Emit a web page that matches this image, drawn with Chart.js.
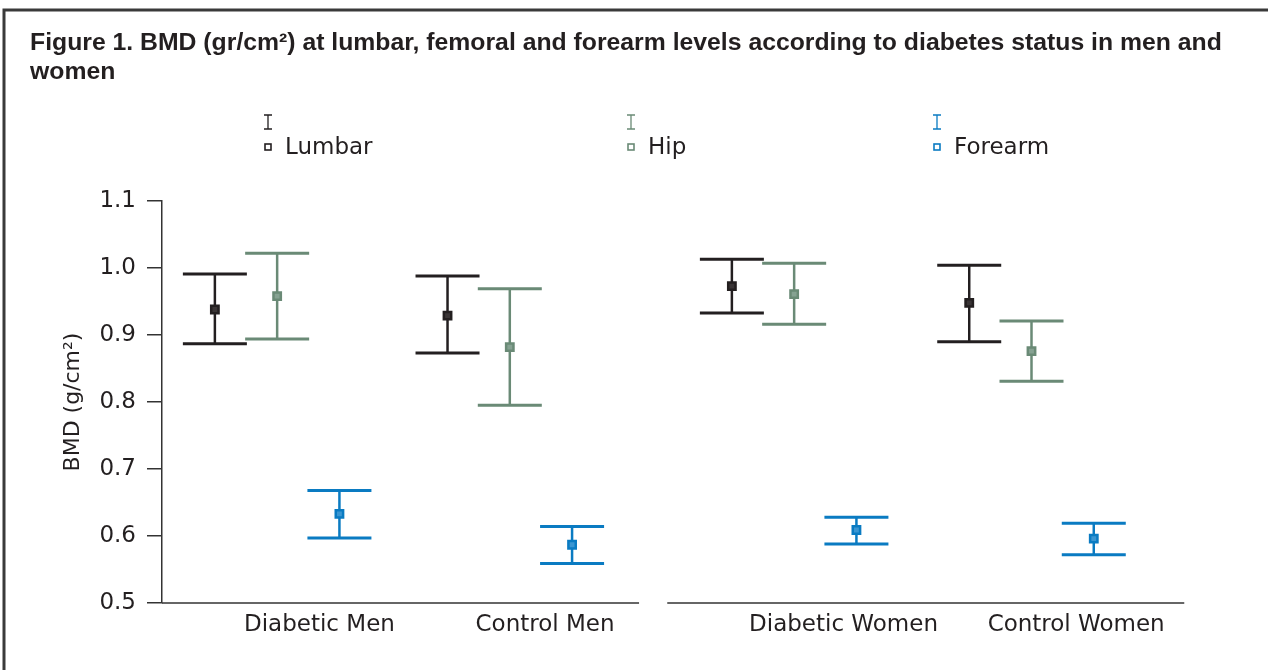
<!DOCTYPE html>
<html>
<head>
<meta charset="utf-8">
<script src="https://cdn.jsdelivr.net/npm/chart.js@4/dist/chart.umd.min.js"></script>
<style>
  html, body { margin: 0; padding: 0; background: #ffffff; }
  canvas { display: block; }
</style>
</head>
<body>
<canvas id="c" width="1268" height="670"></canvas>
<script>
// ---- data ----
const titleLines = ['Figure 1. BMD (gr/cm\u00B2) at lumbar, femoral and forearm levels according to diabetes status in men and', 'women'];
const categories = ['Diabetic Men', 'Control Men', 'Diabetic Women', 'Control Women'];
const seriesNames = ['Lumbar', 'Hip', 'Forearm'];
const lumbarMean = [0.938, 0.929, 0.973, 0.948];
const lumbarLow  = [0.887, 0.873, 0.933, 0.890];
const lumbarHigh = [0.991, 0.988, 1.013, 1.004];
const hipMean    = [0.958, 0.882, 0.961, 0.876];
const hipLow     = [0.894, 0.795, 0.916, 0.831];
const hipHigh    = [1.022, 0.969, 1.007, 0.921];
const forearmMean = [0.633, 0.587, 0.609, 0.596];
const forearmLow  = [0.597, 0.559, 0.588, 0.572];
const forearmHigh = [0.668, 0.614, 0.628, 0.619];
const yTicks = [0.5, 0.6, 0.7, 0.8, 0.9, 1.0, 1.1];

// ---- layout (x in category units) ----
const groupPos = [0.49, 1.48, 2.69, 3.70];
const seriesOffset = [-0.265, 0, 0.265];
const labelPos = [0.67, 1.63, 2.90, 3.89];
const panels = [[0, 2.03], [2.15, 4.35]];
const colors = ['#231f20', '#6a8a76', '#0a7bc2'];
const fills = ['#3a3536', '#86a292', '#3a96d2'];
const FONT = '"DejaVu Sans", sans-serif';

const means = [lumbarMean, hipMean, forearmMean];
const lows = [lumbarLow, hipLow, forearmLow];
const highs = [lumbarHigh, hipHigh, forearmHigh];

const datasets = seriesNames.map((name, k) => ({
  label: name,
  data: means[k].map((v, i) => ({ x: groupPos[i] + seriesOffset[k], y: v })),
  low: lows[k],
  high: highs[k],
  pointStyle: 'rect',
  pointRadius: 5.2,
  pointBorderWidth: 2.5,
  borderColor: colors[k],
  backgroundColor: fills[k],
  showLine: false
}));

const errorBars = {
  id: 'errorBars',
  beforeDatasetsDraw(chart) {
    const ctx = chart.ctx, xs = chart.scales.x, ys = chart.scales.y;
    ctx.save();
    chart.data.datasets.forEach((ds, k) => {
      ctx.strokeStyle = colors[k];
      ds.data.forEach((p, i) => {
        const x = xs.getPixelForValue(p.x);
        const yl = ys.getPixelForValue(ds.low[i]);
        const yh = ys.getPixelForValue(ds.high[i]);
        ctx.lineWidth = 2.5;
        ctx.beginPath(); ctx.moveTo(x, yl); ctx.lineTo(x, yh); ctx.stroke();
        ctx.lineWidth = 3;
        ctx.beginPath();
        ctx.moveTo(x - 32, yl); ctx.lineTo(x + 32, yl);
        ctx.moveTo(x - 32, yh); ctx.lineTo(x + 32, yh);
        ctx.stroke();
      });
    });
    ctx.restore();
  },
  afterDraw(chart) {
    const ctx = chart.ctx, xs = chart.scales.x, ys = chart.scales.y;
    ctx.save();
    // frame
    ctx.strokeStyle = '#3a3a3a';
    ctx.lineWidth = 3;
    ctx.beginPath(); ctx.moveTo(4, 670); ctx.lineTo(4, 10); ctx.lineTo(1268, 10); ctx.stroke();
    // baseline segments
    const yb = ys.getPixelForValue(yTicks[0]);
    ctx.strokeStyle = '#333333';
    ctx.lineWidth = 1.5;
    panels.forEach(([a, b]) => {
      ctx.beginPath(); ctx.moveTo(xs.getPixelForValue(a), yb); ctx.lineTo(xs.getPixelForValue(b), yb); ctx.stroke();
    });
    // title
    ctx.fillStyle = '#231f20';
    ctx.textBaseline = 'middle';
    ctx.textAlign = 'left';
    ctx.font = 'bold 20px "Liberation Sans", sans-serif';
    const w = ctx.measureText(titleLines[0]).width;
    const fs = 20 * 1192 / w;
    ctx.font = 'bold ' + fs.toFixed(2) + 'px "Liberation Sans", sans-serif';
    ctx.fillText(titleLines[0], 30, 43);
    ctx.fillText(titleLines[1], 30, 72);
    // legend
    const legX = [268, 631, 937];
    seriesNames.forEach((name, k) => {
      const x = legX[k];
      ctx.strokeStyle = colors[k];
      ctx.lineWidth = 1.3;
      ctx.beginPath();
      ctx.moveTo(x, 115); ctx.lineTo(x, 129);
      ctx.moveTo(x - 4, 115); ctx.lineTo(x + 4, 115);
      ctx.moveTo(x - 4, 129); ctx.lineTo(x + 4, 129);
      ctx.stroke();
      ctx.lineWidth = 1.6;
      ctx.strokeRect(x - 3, 144, 6, 6);
      ctx.fillStyle = '#231f20';
      ctx.font = '23px ' + FONT;
      ctx.fillText(name, x + 17, 148);
    });
    ctx.restore();
  }
};

new Chart(document.getElementById('c'), {
  type: 'scatter',
  data: { datasets },
  options: {
    responsive: false,
    animation: false,
    events: [],
    layout: { padding: { top: 201, right: 72, bottom: 0, left: 0 } },
    plugins: { legend: { display: false }, title: { display: false }, tooltip: { enabled: false } },
    scales: {
      x: {
        type: 'linear',
        min: 0,
        max: 4.4,
        border: { display: false },
        grid: { display: false, drawTicks: false },
        afterBuildTicks: (s) => { s.ticks = labelPos.map(v => ({ value: v })); },
        afterFit: (s) => { s.height = 67; },
        ticks: {
          autoSkip: false,
          maxRotation: 0,
          padding: 8,
          color: '#231f20',
          font: { family: FONT, size: 23 },
          callback: (v, i) => categories[i]
        }
      },
      y: {
        min: yTicks[0],
        max: yTicks[yTicks.length - 1],
        afterBuildTicks: (s) => { s.ticks = yTicks.map(v => ({ value: v })); },
        afterFit: (s) => { s.width = 162; },
        border: { display: true, color: '#333333', width: 1.5 },
        grid: { display: true, drawOnChartArea: false, drawTicks: true, tickLength: 15, color: '#333333', lineWidth: 1.5 },
        ticks: {
          padding: 11,
          color: '#231f20',
          font: { family: FONT, size: 23 },
          callback: (v) => Number(v).toFixed(1)
        },
        title: {
          display: true,
          text: 'BMD (g/cm\u00B2)',
          color: '#231f20',
          font: { family: FONT, size: 22 },
          padding: { top: 60, bottom: 0 }
        }
      }
    }
  },
  plugins: [errorBars]
});
</script>
</body>
</html>
